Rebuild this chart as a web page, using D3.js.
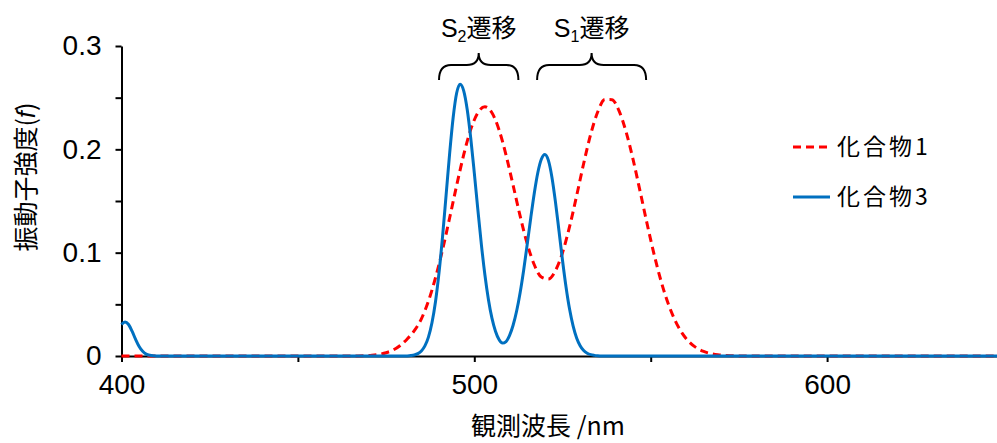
<!DOCTYPE html>
<html>
<head>
<meta charset="utf-8">
<script src="https://cdn.jsdelivr.net/npm/d3@7"></script>
<style>
body { margin: 0; background: #fff; }
svg { display: block; }
</style>
</head>
<body>
<script>
// spectra (nm, oscillator strength)
var redWl = [400, 465, 467, 469, 471, 473, 475, 477, 479, 481, 483, 485, 487, 489, 491, 493, 495, 497, 499, 501, 503,
	505, 507, 509, 511, 513, 515, 517, 519, 521, 523, 525, 527, 529, 531, 533, 535, 537, 539, 541, 543, 545, 547, 549,
	551, 553, 555, 557, 559, 561, 563, 565, 567, 569, 571, 573, 575, 577, 580, 650];
var redVal = [0, 0, 0.0001, 0.0003, 0.0007, 0.0016, 0.0032, 0.0058, 0.0102, 0.0165, 0.0245, 0.0360, 0.0531, 0.0757, 0.1029,
	0.1335, 0.1651, 0.1948, 0.2193, 0.2354, 0.2411, 0.2354, 0.2190, 0.1944, 0.1652, 0.1353, 0.1086, 0.0883, 0.0765, 0.0745,
	0.0826, 0.1000, 0.1251, 0.1550, 0.1863, 0.2147, 0.2364, 0.2482, 0.2481, 0.2374, 0.2172, 0.1902, 0.1593, 0.1276, 0.0978,
	0.0717, 0.0503, 0.0338, 0.0217, 0.0133, 0.0078, 0.0044, 0.0024, 0.0012, 0.0006, 0.0003, 0.0001, 0, 0, 0];

var blueWl = [400, 401, 402, 403, 404, 405, 406, 407, 408, 410, 480, 481, 482, 483, 484, 485, 486, 487, 488, 489, 490,
	491, 492, 493, 494, 495, 496, 497, 498, 499, 500, 501, 502, 503, 504, 505, 506, 507, 508, 509, 510, 511, 512, 513, 514,
	515, 516, 517, 518, 519, 520, 521, 522, 523, 524, 525, 526, 527, 528, 529, 530, 531, 532, 533, 534, 535, 536, 540, 650];
var blueVal = [0.0305, 0.0330, 0.0305, 0.0240, 0.0161, 0.0092, 0.0045, 0.0018, 0.0007, 0, 0, 0.0001, 0.0004, 0.0010, 0.0023,
	0.0049, 0.0098, 0.0183, 0.0321, 0.0525, 0.0806, 0.1156, 0.1554, 0.1956, 0.2306, 0.2545, 0.2630, 0.2566, 0.2383, 0.2106,
	0.1772, 0.1419, 0.1081, 0.0786, 0.0547, 0.0366, 0.0240, 0.0160, 0.0125, 0.0140, 0.0200, 0.0298, 0.0435, 0.0615, 0.0833,
	0.1080, 0.1336, 0.1576, 0.1774, 0.1904, 0.1950, 0.1893, 0.1731, 0.1492, 0.1212, 0.0927, 0.0668, 0.0454, 0.0291, 0.0175,
	0.0100, 0.0053, 0.0027, 0.0013, 0.0006, 0.0002, 0, 0, 0];

var xTicks = [400, 450, 500, 550, 600, 650];
var xLabeled = [400, 500, 600];
var yTicks = [0, 0.05, 0.1, 0.15, 0.2, 0.25, 0.3];
var yLabeled = [0, 0.1, 0.2, 0.3];
var seriesNames = ["化合物1", "化合物3"];
var seriesColors = ["#ff0000", "#0070c0"];

// transition bands marked by braces
var bandFrom = [490, 517.8];
var bandTo = [512.5, 548.7];
var bandSub = ["2", "1"];

var width = 997, height = 443;
var latin = "'Liberation Sans', Arial, sans-serif";
var cjk = "'Noto Sans CJK JP', 'Liberation Sans', sans-serif";

var svg = d3.select("body").append("svg").attr("width", width).attr("height", height);

var x = d3.scaleLinear().domain([400, 650]).range([121.5, 1003.5]);
var y = d3.scaleLinear().domain([0, 0.3]).range([356, 46]);

var yAxis = svg.append("g")
	.attr("transform", "translate(" + x(400) + ",0)")
	.call(d3.axisLeft(y).tickValues(yTicks).tickSize(6).tickSizeOuter(0).tickPadding(14)
		.tickFormat(function(d) {
			if (yLabeled.indexOf(d) < 0) return "";
			return d === 0 ? "0" : d.toFixed(1);
		}));

var xAxis = svg.append("g")
	.attr("transform", "translate(0," + y(0) + ")")
	.call(d3.axisBottom(x).tickValues(xTicks).tickSize(6).tickSizeOuter(0).tickPadding(12)
		.tickFormat(function(d) { return xLabeled.indexOf(d) < 0 ? "" : d; }));

svg.selectAll(".domain, .tick line").attr("stroke", "#000").attr("stroke-width", 2);
svg.selectAll(".tick text").attr("fill", "#000").style("font-family", latin).style("font-size", "28px");

// y title
svg.append("text")
	.attr("transform", "translate(35,177) rotate(-90)")
	.attr("text-anchor", "middle")
	.style("font-family", cjk).style("font-size", "25px").attr("fill", "#000")
	.text("振動子強度(")
	.append("tspan").style("font-style", "italic").style("font-family", latin).text("f")
	.select(function() { return this.parentNode; })
	.append("tspan").text(")");

// x title
svg.append("text")
	.attr("x", 548).attr("y", 435)
	.attr("text-anchor", "middle")
	.style("font-family", cjk).style("font-size", "25px").attr("fill", "#000")
	.text("観測波長 /nm");

var line = d3.line()
	.x(function(d) { return x(d[0]); })
	.y(function(d) { return y(d[1]); })
	.curve(d3.curveMonotoneX);

var redData = d3.zip(redWl, redVal);
var blueData = d3.zip(blueWl, blueVal);

svg.append("path")
	.datum(redData)
	.attr("d", line)
	.attr("fill", "none")
	.attr("stroke", seriesColors[0])
	.attr("stroke-width", 3)
	.attr("stroke-dasharray", "8,5");

svg.append("path")
	.datum(blueData)
	.attr("d", line)
	.attr("fill", "none")
	.attr("stroke", seriesColors[1])
	.attr("stroke-width", 3);

// braces and labels
function brace(x0, x1, yTip, yEnd) {
	var xm = (x0 + x1) / 2, r = 12, yMid = yTip + 12;
	return "M" + x0 + "," + yEnd +
		" Q" + x0 + "," + yMid + " " + (x0 + r) + "," + yMid +
		" L" + (xm - r) + "," + yMid +
		" Q" + xm + "," + yMid + " " + xm + "," + yTip +
		" Q" + xm + "," + yMid + " " + (xm + r) + "," + yMid +
		" L" + (x1 - r) + "," + yMid +
		" Q" + x1 + "," + yMid + " " + x1 + "," + yEnd;
}

bandFrom.forEach(function(f, i) {
	var x0 = x(f), x1 = x(bandTo[i]);
	svg.append("path")
		.attr("d", brace(x0, x1, 53, 80))
		.attr("fill", "none").attr("stroke", "#000").attr("stroke-width", 2);
	var t = svg.append("text")
		.attr("x", (x0 + x1) / 2).attr("y", 37)
		.attr("text-anchor", "middle")
		.attr("fill", "#000")
		.style("font-size", "25px");
	t.append("tspan").style("font-family", latin).text("S");
	t.append("tspan").style("font-family", latin).style("font-size", "16px").attr("dy", 5).text(bandSub[i]);
	t.append("tspan").style("font-family", cjk).attr("dy", -5).text("遷移");
});

// legend
var legend = svg.append("g");
seriesNames.forEach(function(name, i) {
	var ly = 147 + i * 50;
	legend.append("line")
		.attr("x1", 793).attr("x2", 830)
		.attr("y1", ly).attr("y2", ly)
		.attr("stroke", seriesColors[i]).attr("stroke-width", 3)
		.attr("stroke-dasharray", i === 0 ? "8,5" : null);
	legend.append("text")
		.attr("x", 837).attr("y", ly)
		.attr("dy", "0.35em")
		.attr("fill", "#000")
		.style("font-family", cjk).style("font-size", "23px")
		.style("letter-spacing", "3px")
		.text(name);
});
</script>
</body>
</html>
